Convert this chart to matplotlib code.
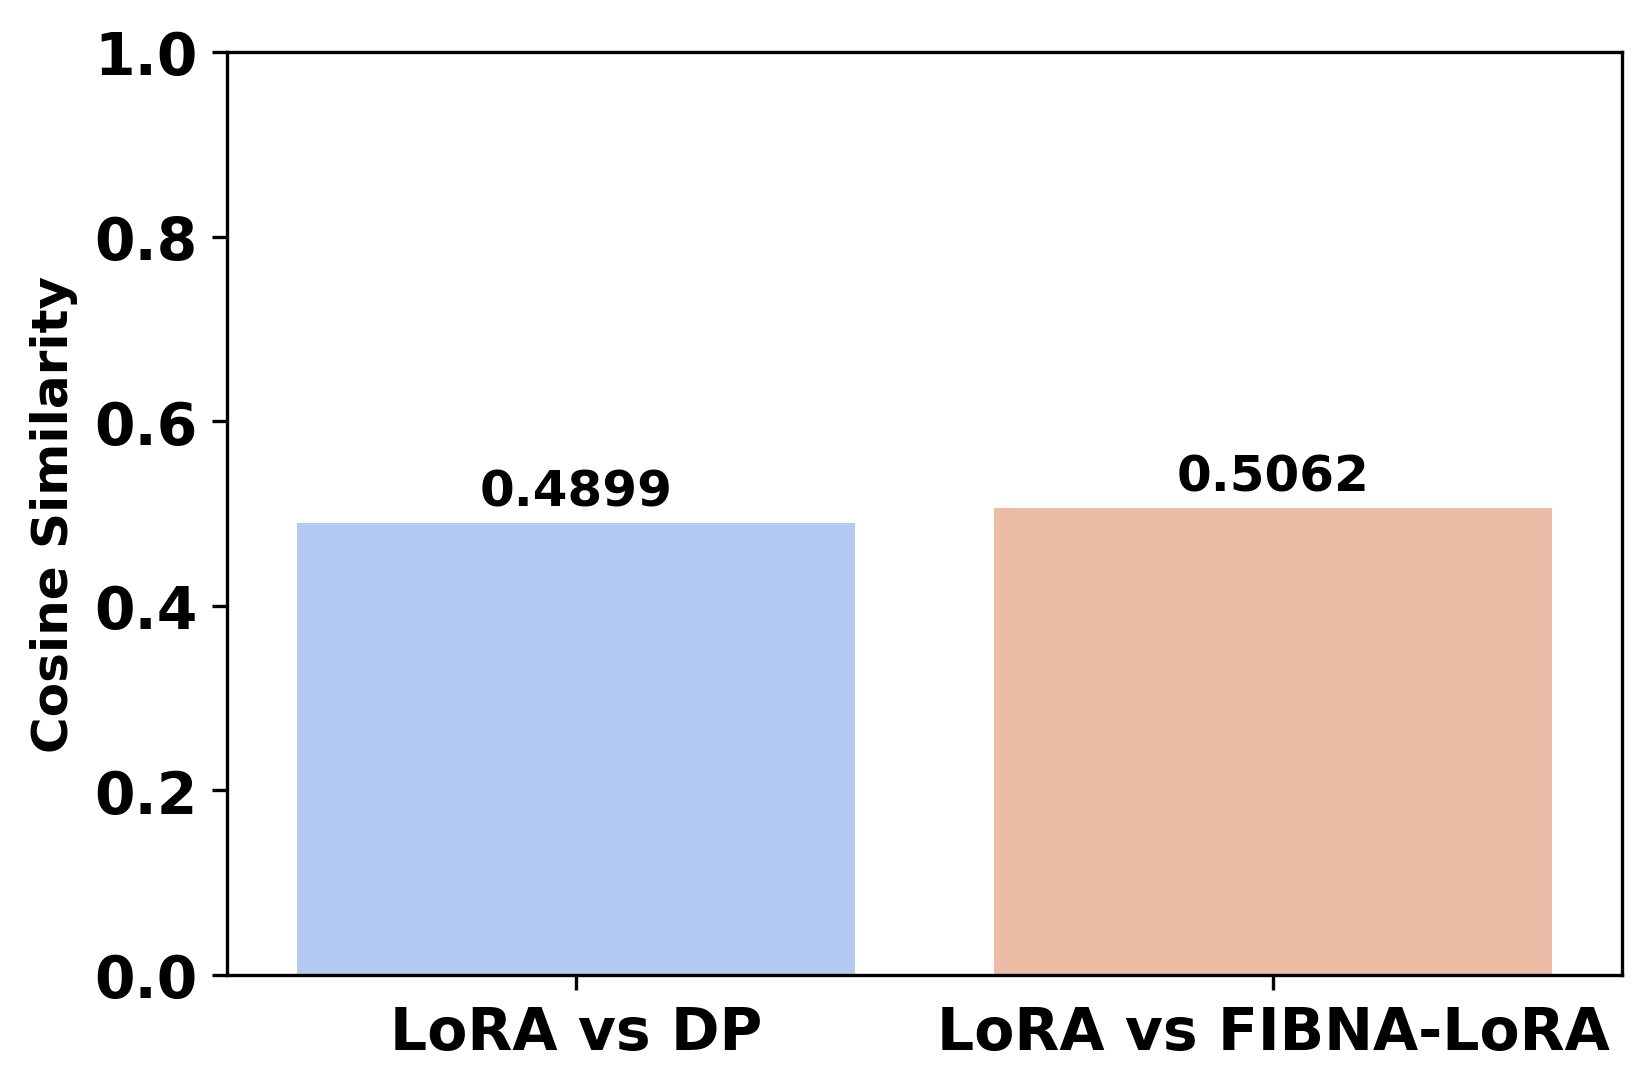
import matplotlib
matplotlib.use("Agg")
import matplotlib.pyplot as plt
import seaborn as sns

categories = ["LoRA vs DP", "LoRA vs FIBNA-LoRA"]
values = [0.4899, 0.5062]
yticks = [0.0, 0.2, 0.4, 0.6, 0.8, 1.0]

plt.rcParams['font.family'] = ['DejaVu Sans']

fig = plt.figure(figsize=(1652 / 300, 1091.8 / 300), dpi=300)
ax = fig.add_axes([227 / 1652, 1 - 976 / 1092, (1622 - 227) / 1652, (976 - 53) / 1092])

sns.barplot(x=categories, y=values, hue=categories, palette="coolwarm", legend=False, ax=ax)

for i, v in enumerate(values):
    ax.text(i, v + 0.008, f"{v:.4f}", ha="center", va="bottom", fontsize=12, fontweight="bold")

ax.set_ylim(0, 1.0)
ax.set_yticks(yticks)
ax.set_yticklabels([f"{t:.1f}" for t in yticks], fontsize=14, fontweight="bold")
ax.set_xticks(range(len(categories)))
ax.set_xticklabels(categories, fontsize=14, fontweight="bold")
ax.set_ylabel("Cosine Similarity", fontsize=12, fontweight="bold")
ax.set_xlabel("")

fig.savefig("out.png", dpi=300)
